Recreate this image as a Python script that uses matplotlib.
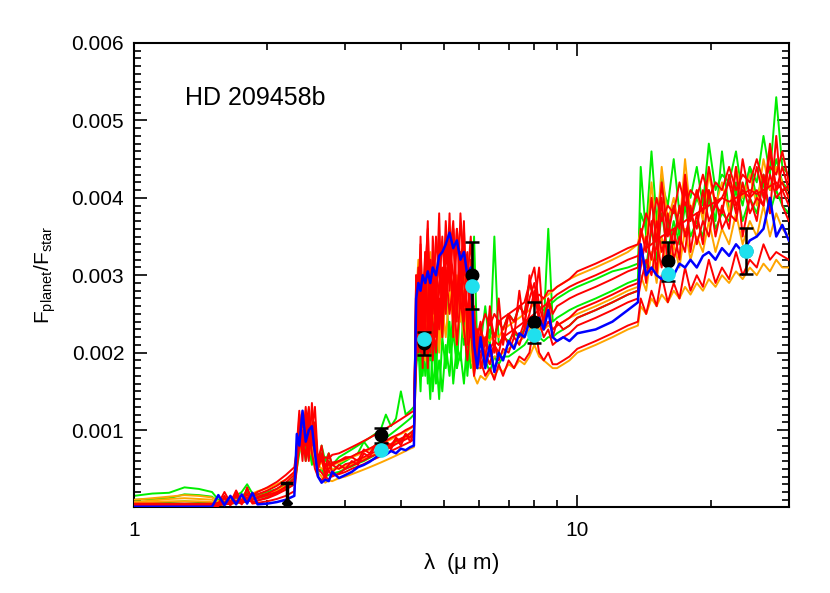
import matplotlib
matplotlib.use('Agg')
import matplotlib.pyplot as plt
from matplotlib.ticker import FixedLocator, NullFormatter, FixedFormatter, MultipleLocator

plt.rc('font', family=['Liberation Sans', 'DejaVu Sans'])
plt.rc('mathtext', default='regular')

# wavelength grid (micron) shared by the model spectra
lam = [1.0, 1.1, 1.2, 1.3, 1.4, 1.5,
       1.55, 1.6, 1.65, 1.7, 1.75, 1.8, 1.85, 1.9, 2.0, 2.1, 2.2, 2.3,
       2.33, 2.36, 2.4, 2.44, 2.48, 2.52, 2.56, 2.6, 2.65, 2.7, 2.75, 2.8, 2.9, 3.0,
       3.1, 3.2, 3.3, 3.4, 3.5, 3.6, 3.7, 3.8, 3.9, 4.0, 4.1, 4.2, 4.28,
       4.33, 4.38, 4.43, 4.48, 4.54, 4.6, 4.66, 4.72, 4.8, 4.88, 4.96, 5.05, 5.15,
       5.25, 5.35, 5.45, 5.55, 5.65, 5.75, 5.85, 5.95,
       6.05, 6.2, 6.35, 6.5, 6.65, 6.8, 7.0, 7.2, 7.4, 7.6, 7.8, 8.0, 8.2, 8.4,
       8.6, 8.8, 9.0, 9.3,
       9.6, 10, 11, 12, 13, 13.7,
       13.9, 14.3, 14.7, 15.1, 15.5, 16, 16.5, 17, 17.5, 18, 18.6, 19.2, 19.8,
       20.5, 21.2, 22, 22.8, 23.6, 24.5, 25.4, 26.3, 27.2, 28.1, 29, 30]

# model planet/star flux ratios, in units of 1e-4
green1 = [1.5, 1.8, 1.9, 2.6, 2.4, 2.0,
          1.0, 1.1, 1.2, 1.5, 2.0, 3.0, 1.8, 1.7, 2.0, 2.4, 3.0, 3.8,
          6, 9, 7, 11, 7, 10, 6, 5, 8, 6, 7, 5.5, 6.5, 7,
          7.5, 8, 8.5, 9, 9.5, 10, 12, 10.5, 11.5, 15, 12, 12.5, 13,
          22, 19, 25, 17, 23, 16, 24, 15, 20, 14, 22, 18, 24, 16, 21, 19, 26, 17, 23, 20, 22,
          22, 21, 23, 22, 24, 23, 25, 24, 26, 25, 29, 27, 26, 25.5, 26, 26.5, 27, 27.5,
          28, 28.5, 29.5, 30.5, 31, 31.5,
          38, 36, 46, 37, 42, 39, 45, 38, 41, 40, 44, 39, 47, 41, 43, 42, 46, 40, 44, 42, 48, 43, 53, 44, 43]
green2 = [1.0, 1.1, 1.2, 1.7, 1.6, 1.4,
          0.7, 0.9, 1.0, 1.2, 1.5, 2.0, 1.4, 1.5, 1.8, 2.2, 2.8, 3.6,
          6.5, 8, 12, 7, 9, 6, 11, 5.5, 7, 5, 6, 4.8, 5.5, 6,
          6.5, 7, 8.5, 7.5, 8, 8.5, 9, 9.5, 10, 10.5, 11, 11.5, 12,
          20, 24, 18, 26, 21, 28, 19, 24, 17, 26, 22, 29, 20, 25, 18, 27, 21, 24, 19, 35, 20,
          21, 26, 20.5, 35, 21, 22, 21.5, 22.5, 22, 23, 24, 23, 24, 23.5, 36, 24, 24.5, 25,
          25.5, 26, 27, 28, 29, 29.5,
          44, 35, 40, 34, 43, 36, 39, 35, 42, 37, 40, 38, 41, 37, 46, 38, 42, 39, 44, 40, 43, 41, 45, 42, 41]
green3 = [0.5, 0.6, 0.7, 0.8, 0.7, 0.6,
          0.3, 0.4, 0.5, 0.6, 0.7, 0.8, 1.0, 1.2, 1.5, 1.9, 2.4, 3.0,
          5, 7, 9, 6, 8, 5.5, 7, 4.5, 5, 4, 4.2, 4.4, 4.6, 5,
          5.3, 5.7, 6, 6.4, 6.8, 7.2, 7.6, 8, 8.4, 8.8, 9.2, 9.6, 10,
          18, 21, 15, 23, 17, 20, 14, 22, 16, 19, 15, 21, 17, 23, 18, 20, 16, 22, 18, 19, 18,
          18, 19, 17.5, 19.5, 18.5, 19.5, 19.5, 20, 20.5, 21, 22, 21, 22, 21.5, 22, 22, 22.5, 23,
          23.5, 24.5, 25.5, 26.5, 27.5, 28,
          33, 31, 36, 32, 38, 33, 37, 34, 39, 35, 37, 35, 40, 36, 38, 37, 41, 37, 40, 38, 42, 38, 41, 39, 38]

orange1 = [0.7, 0.9, 1.1, 1.2, 1.1, 1.0,
           0.4, 0.5, 0.6, 0.7, 0.8, 0.9, 1.1, 1.3, 1.6, 2.0, 2.5, 3.2,
           6, 8, 7, 9, 6.5, 8, 6, 4.5, 4, 3.2, 3.5, 3.4, 3.8, 4,
           4.3, 4.6, 4.9, 5.2, 5.5, 5.8, 6.1, 6.4, 6.7, 7, 7.3, 7.6, 7.8,
           25, 30, 22, 27, 19, 28, 23, 30, 24, 20, 26, 22, 28, 24, 21, 27, 22, 25, 20, 17, 16,
           17, 16.5, 17.5, 17, 18, 17.5, 18.5, 18, 19, 18.5, 19.5, 21, 19.5, 19, 18.5, 18, 18, 18.5,
           19, 20, 21, 22, 23, 23.5,
           26, 25, 27, 26, 27.5, 26.5, 28, 27, 28.5, 27.5, 29, 28, 29.5, 28.5, 30, 29, 30.5, 29.5,
           31, 30, 31.5, 30.5, 32, 31, 31]
orange2 = [1.0, 1.2, 1.4, 1.6, 1.5, 1.3,
           0.8, 1.0, 1.1, 1.3, 1.4, 1.6, 1.8, 2.1, 2.5, 3.0, 3.6, 4.4,
           7, 9.5, 8, 10, 7.5, 9, 6.5, 5.5, 5, 5, 5.2, 5.5, 5.8, 6.2,
           6.5, 6.8, 7.2, 7.5, 7.8, 8.2, 8.5, 8.8, 9.2, 9.5, 9.8, 10.2, 10.5,
           27, 32, 25, 30, 22, 29, 33, 24, 28, 21, 30, 26, 32, 23, 29, 25, 31, 22, 27, 20, 21,
           21, 22, 21.5, 22.5, 22, 23, 23.5, 24, 24.5, 25, 25.5, 26.5, 26.5, 27, 27.5, 28, 28.5, 29,
           29.5, 30, 31, 32, 33, 34,
           36, 34, 42, 35, 44, 37, 40, 36, 45, 38, 41, 37, 43, 39, 42, 38, 44, 40, 43, 39, 45, 41, 44, 42, 40]
orange3 = [0.6, 0.7, 0.8, 0.8, 0.8, 0.7,
           0.5, 0.6, 0.7, 0.8, 0.9, 1.0, 1.2, 1.4, 1.8, 2.2, 2.8, 3.5,
           6, 10, 8, 11, 9, 8, 10, 5, 6, 4.5, 4.8, 5, 5, 5.3,
           5.6, 5.9, 6.3, 6.6, 6.9, 7.3, 7.6, 7.9, 8.3, 8.6, 8.9, 9.3, 9.6,
           24, 29, 33, 26, 31, 27, 24, 32, 29, 25, 22, 28, 33, 26, 30, 24, 28, 21, 26, 19, 18,
           18, 19, 18.5, 19.5, 19.5, 20, 20.5, 21, 21.5, 22, 23, 25, 23, 23, 23.5, 23, 23.5, 24,
           24.5, 25, 26, 27, 28, 28.5,
           30, 28, 33, 29, 35, 30, 34, 31, 36, 32, 35, 33, 37, 33, 36, 34, 38, 34, 37, 35, 39, 35, 38, 36, 35]

red1 = [0.4, 0.4, 0.4, 0.4, 0.4, 0.4,
        0.5, 2.0, 0.6, 2.2, 0.8, 2.4, 1.0, 1.4, 1.8, 2.4, 3.2, 4.2,
        7, 11, 6, 12.5, 8, 10, 13, 6, 8, 5, 7, 5.5, 6, 6.5,
        6.5, 6, 7.5, 7, 8, 7.5, 8.5, 8, 9, 8.5, 9.5, 9, 10,
        24, 31, 20, 27, 33, 22, 29, 19, 26, 34, 25, 37, 28, 36, 24, 38, 30, 33, 22, 26, 19,
        23, 21, 25, 22, 24, 23, 25, 24, 26, 25, 29, 31, 26, 24, 27, 25, 26, 26.5,
        27, 27.5, 28.5, 29.5, 30.5, 31,
        36, 33, 40, 34, 42, 35, 39, 36, 43, 37, 41, 38, 44, 39, 40, 42, 38, 45, 40, 41, 39, 46, 41, 44, 41]
red2 = [0.3, 0.3, 0.3, 0.3, 0.3, 0.3,
        0.3, 0.4, 0.5, 0.6, 0.7, 0.8, 1.0, 1.2, 1.6, 2.0, 2.6, 3.4,
        6, 9, 7, 10, 8, 9, 7, 6, 6, 5.5, 5.5, 5.8, 6, 6.3,
        6.6, 7, 7.3, 7.6, 8, 8.3, 8.6, 9, 9.3, 9.6, 10, 10.3, 10.6,
        20, 26, 30, 23, 28, 25, 32, 27, 24, 29, 31, 26, 34, 30, 27, 33, 29, 25, 28, 23, 21,
        20, 21, 20.5, 21.5, 21, 22, 22.5, 23, 23.5, 24, 24.5, 25, 25.5, 26, 26.5, 27, 27.5, 28,
        28.5, 29, 30, 31, 32, 32.5,
        33, 33.5, 34, 34.5, 35, 35.5, 36, 36.5, 37, 37.5, 38, 38.5, 39, 39.5, 40, 39.5, 40, 40.5,
        41, 40.5, 41, 41.5, 42, 41, 41.5]
red3 = [0.2, 0.2, 0.2, 0.2, 0.2, 0.2,
        0.2, 1.2, 0.3, 1.5, 0.4, 1.8, 0.5, 0.6, 0.8, 1.1, 1.5, 2.1,
        5, 8, 10, 6, 11, 7, 5, 4, 3.5, 4, 3.6, 4.2, 4.3, 4.6,
        5, 5.3, 5.6, 6, 6.3, 6.6, 7, 7.3, 7.6, 7.9, 8.2, 8.5, 8.8,
        19, 23, 28, 21, 25, 18, 30, 24, 20, 27, 22, 31, 25, 29, 21, 27, 23, 19, 24, 17, 20,
        19, 17, 18, 16.5, 18.5, 17, 19, 18, 19.5, 19, 20, 24, 20, 19, 20, 18.5, 18.5, 19,
        19.5, 20.5, 21.5, 22.5, 23.5, 24,
        27, 25, 28, 26, 30, 26.5, 29, 27, 31, 28, 30, 28.5, 32, 29, 31, 29.5, 33, 30, 32, 31,
        34, 32, 33, 32.5, 32]
red4 = [0.5, 0.5, 0.5, 0.5, 0.5, 0.5,
        0.6, 0.7, 0.8, 0.9, 1.0, 1.2, 1.4, 1.7, 2.2, 2.8, 3.6, 4.6,
        6.5, 10, 8, 13, 7, 9.5, 11, 5, 7, 4.5, 5, 5.5, 5, 5.6,
        5.8, 6.2, 6.5, 6.9, 7.2, 7.5, 7.9, 8.2, 8.6, 8.9, 9.2, 9.6, 10,
        22, 28, 34, 25, 30, 36, 26, 31, 22, 28, 35, 27, 32, 37, 26, 31, 24, 29, 35, 24, 22,
        19, 22, 19.5, 21, 20, 22.5, 21, 23, 22, 24, 27, 29, 25, 23, 24, 23, 23.5, 24,
        24.5, 25.5, 26.5, 27.5, 28.5, 29,
        31, 35, 32, 37, 33, 36, 34, 39, 35, 38, 36, 41, 37, 39, 38, 43, 39, 41, 40, 44, 40, 47, 41, 42, 40]
red5 = [0.3, 0.3, 0.3, 0.3, 0.3, 0.3,
        0.3, 0.6, 0.4, 0.8, 0.5, 1.0, 0.7, 0.9, 1.2, 1.7, 2.3, 3.0,
        5.5, 12, 7, 9, 6, 13.5, 8, 5, 4.5, 3.8, 4.8, 4, 4.4, 5,
        5.4, 5.8, 6.1, 6.5, 6.8, 7.2, 7.5, 7.8, 8.2, 8.5, 8.8, 9.1, 9.4,
        30, 21, 27, 18, 33, 24, 20, 35, 28, 23, 30, 25, 38, 22, 36, 26, 37, 21, 32, 18, 23,
        18, 20, 18.5, 21, 19, 20.5, 20, 22, 21, 23, 25, 28, 24, 22, 23, 21, 21.5, 22,
        22.5, 23.5, 24.5, 25.5, 26.5, 27,
        29, 32, 30, 34, 31, 38, 32, 35, 33, 39, 34, 37, 35, 40, 36, 38, 37, 42, 38, 40, 39, 43, 40, 41, 39]
red6 = [0.1, 0.1, 0.1, 0.1, 0.1, 0.1,
        0.2, 1.5, 0.3, 1.9, 0.5, 2.6, 0.6, 0.9, 1.3, 1.9, 2.7, 3.8,
        8, 12.5, 7, 10, 13, 8, 10.5, 5, 6.5, 4, 6, 4.5, 5.5, 5,
        6, 5.5, 7, 6.5, 8, 7, 8.5, 7.5, 9, 8, 9.5, 8.5, 9.5,
        30, 20, 35, 23, 29, 37, 21, 32, 26, 38, 23, 33, 29, 36, 25, 31, 36, 24, 30, 20, 22,
        24, 19, 26, 20, 27, 21, 25, 22, 28, 23, 30, 26, 31, 23, 27, 22, 24, 23,
        23.5, 24.5, 25.5, 26.5, 27.5, 28,
        34, 29, 37, 30, 40, 31, 36, 32, 42, 33, 38, 34, 41, 35, 39, 36, 44, 35, 40, 37, 43, 38, 48, 39, 37]
red7 = [0.2, 0.2, 0.2, 0.2, 0.2, 0.2,
        0.4, 0.5, 0.6, 0.8, 1.0, 1.3, 1.6, 2.0, 2.6, 3.3, 4.2, 5.2,
        7.5, 9, 11, 8, 12, 9, 7.5, 6.5, 6, 6.5, 6.3, 6.8, 7, 7.4,
        7.8, 8.2, 8.6, 9, 9.4, 9.8, 10.2, 10.6, 11, 11.4, 11.8, 12.2, 12.5,
        26, 22, 31, 27, 24, 33, 28, 25, 35, 30, 27, 34, 31, 28, 36, 32, 26, 30, 25, 22, 23,
        23, 25, 23.5, 25, 24, 24.5, 25, 25.5, 26, 26.5, 29, 27, 27.5, 27, 28, 28, 28.5, 29,
        29.5, 30.5, 31.5, 32.5, 33.5, 34,
        35, 38, 36, 40, 37, 39, 38, 42, 39, 41, 40, 43, 40, 42, 41, 44, 41, 43, 42, 45, 42, 44, 43, 46, 42]

blue = [0.1, 0.1, 0.1, 0.1, 0.1, 0.1,
        1.6, 0.3, 1.5, 0.4, 1.7, 0.5, 1.9, 0.4, 0.5, 0.7, 1.0, 1.5,
        9.5, 8.0, 12.5, 8.5, 10.0, 10.5, 7.0, 4.0, 3.2, 3.6, 3.4, 4.6, 3.8, 4.2,
        4.6, 5.2, 5.5, 5.9, 6.4, 7.0, 6.8, 7.3, 7.0, 7.6, 7.4, 7.8, 8.0,
        27, 29, 28, 30, 29, 30.5, 29, 31, 30, 32.5, 33, 34, 35.5, 33.5, 34.5, 32, 33, 30, 31, 21, 18,
        22, 18, 21, 17.5, 20, 19, 21.5, 20.5, 22.5, 22, 24, 23, 24.5, 23, 25.5, 22, 21.5, 22,
        21.5, 22.5, 23, 24, 25.5, 26.5,
        34, 30, 31, 30, 29.5, 31, 30, 31.5, 31, 32, 31, 32.5, 33, 32, 33.5, 32.5, 34, 33, 34.5,
        35, 36, 40, 35, 36.5, 34.5]

# observed eclipse depths and band-averaged model
obs_lam = [3.6, 4.5, 5.8, 8.0, 16.0, 24.0]
obs_val = [0.00093, 0.00212, 0.0030, 0.00239, 0.00318, 0.00331]
obs_err = [0.0001, 0.00015, 0.00043, 0.00026, 0.00025, 0.0003]
band_val = [0.00074, 0.00218, 0.00286, 0.00223, 0.00302, 0.00331]
# 2.2 micron upper limit
lim_lam = 2.21
lim_low = 0.00006
lim_high = 0.00031

fig = plt.figure(figsize=(8.3, 5.93), dpi=100)
ax = fig.add_axes([0.1614, 0.1442, 0.789, 0.7833])

scale = 1e-4
for spec in (green1, green2, green3):
    ax.plot(lam, [v * scale for v in spec], color='#00ee00', lw=1.4, zorder=2)
for spec in (orange1, orange2, orange3):
    ax.plot(lam, [v * scale for v in spec], color='#ffa500', lw=1.4, zorder=3)
for spec in (red1, red2, red3, red4, red5, red6, red7):
    ax.plot(lam, [v * scale for v in spec], color='#ff0000', lw=1.4, zorder=4)
ax.plot(lam, [v * scale for v in blue], color='#0000ff', lw=1.8, zorder=5)

ax.errorbar(obs_lam, obs_val, yerr=obs_err, fmt='o', color='black', ms=9,
            elinewidth=1.8, capsize=5, capthick=1.8, zorder=6)
ax.scatter(obs_lam, band_val, s=90, color='#1fe0ee', zorder=7)
ax.plot([lim_lam, lim_lam], [lim_low, lim_high], color='black', lw=2.5, zorder=6)
ax.plot([lim_lam * 0.975, lim_lam * 1.025], [lim_high, lim_high], color='black', lw=2.5, zorder=6)
ax.plot([lim_lam], [lim_low], marker='D', ms=5, color='black', zorder=6)

ax.set_xscale('log')
ax.set_xlim(1, 30)
ax.set_ylim(0, 0.006)
ax.xaxis.set_major_locator(FixedLocator([1, 10]))
ax.xaxis.set_major_formatter(FixedFormatter(['1', '10']))
ax.xaxis.set_minor_locator(FixedLocator([2, 3, 4, 5, 6, 7, 8, 9, 20]))
ax.xaxis.set_minor_formatter(NullFormatter())
ax.set_yticks([0.001, 0.002, 0.003, 0.004, 0.005, 0.006])
ax.set_yticklabels(['0.001', '0.002', '0.003', '0.004', '0.005', '0.006'])
ax.yaxis.set_minor_locator(MultipleLocator(0.0001))
ax.tick_params(which='both', direction='in', top=True, right=True, width=1.2,
               labelsize=15, colors='black')
ax.tick_params(which='major', length=9)
ax.tick_params(which='minor', length=5)
ax.tick_params(axis='x', pad=10)
ax.tick_params(axis='y', pad=7)
for sp in ax.spines.values():
    sp.set_linewidth(1.5)

ax.set_xlabel(r'$\lambda$  ($\mu$ m)', fontsize=16, labelpad=8)
ax.set_ylabel(r'F$_{planet}$/F$_{star}$', fontsize=15, labelpad=10)
ax.text(0.078, 0.882, 'HD 209458b', transform=ax.transAxes, fontsize=18,
        va='center', ha='left')

fig.savefig('out.png', dpi=100)
